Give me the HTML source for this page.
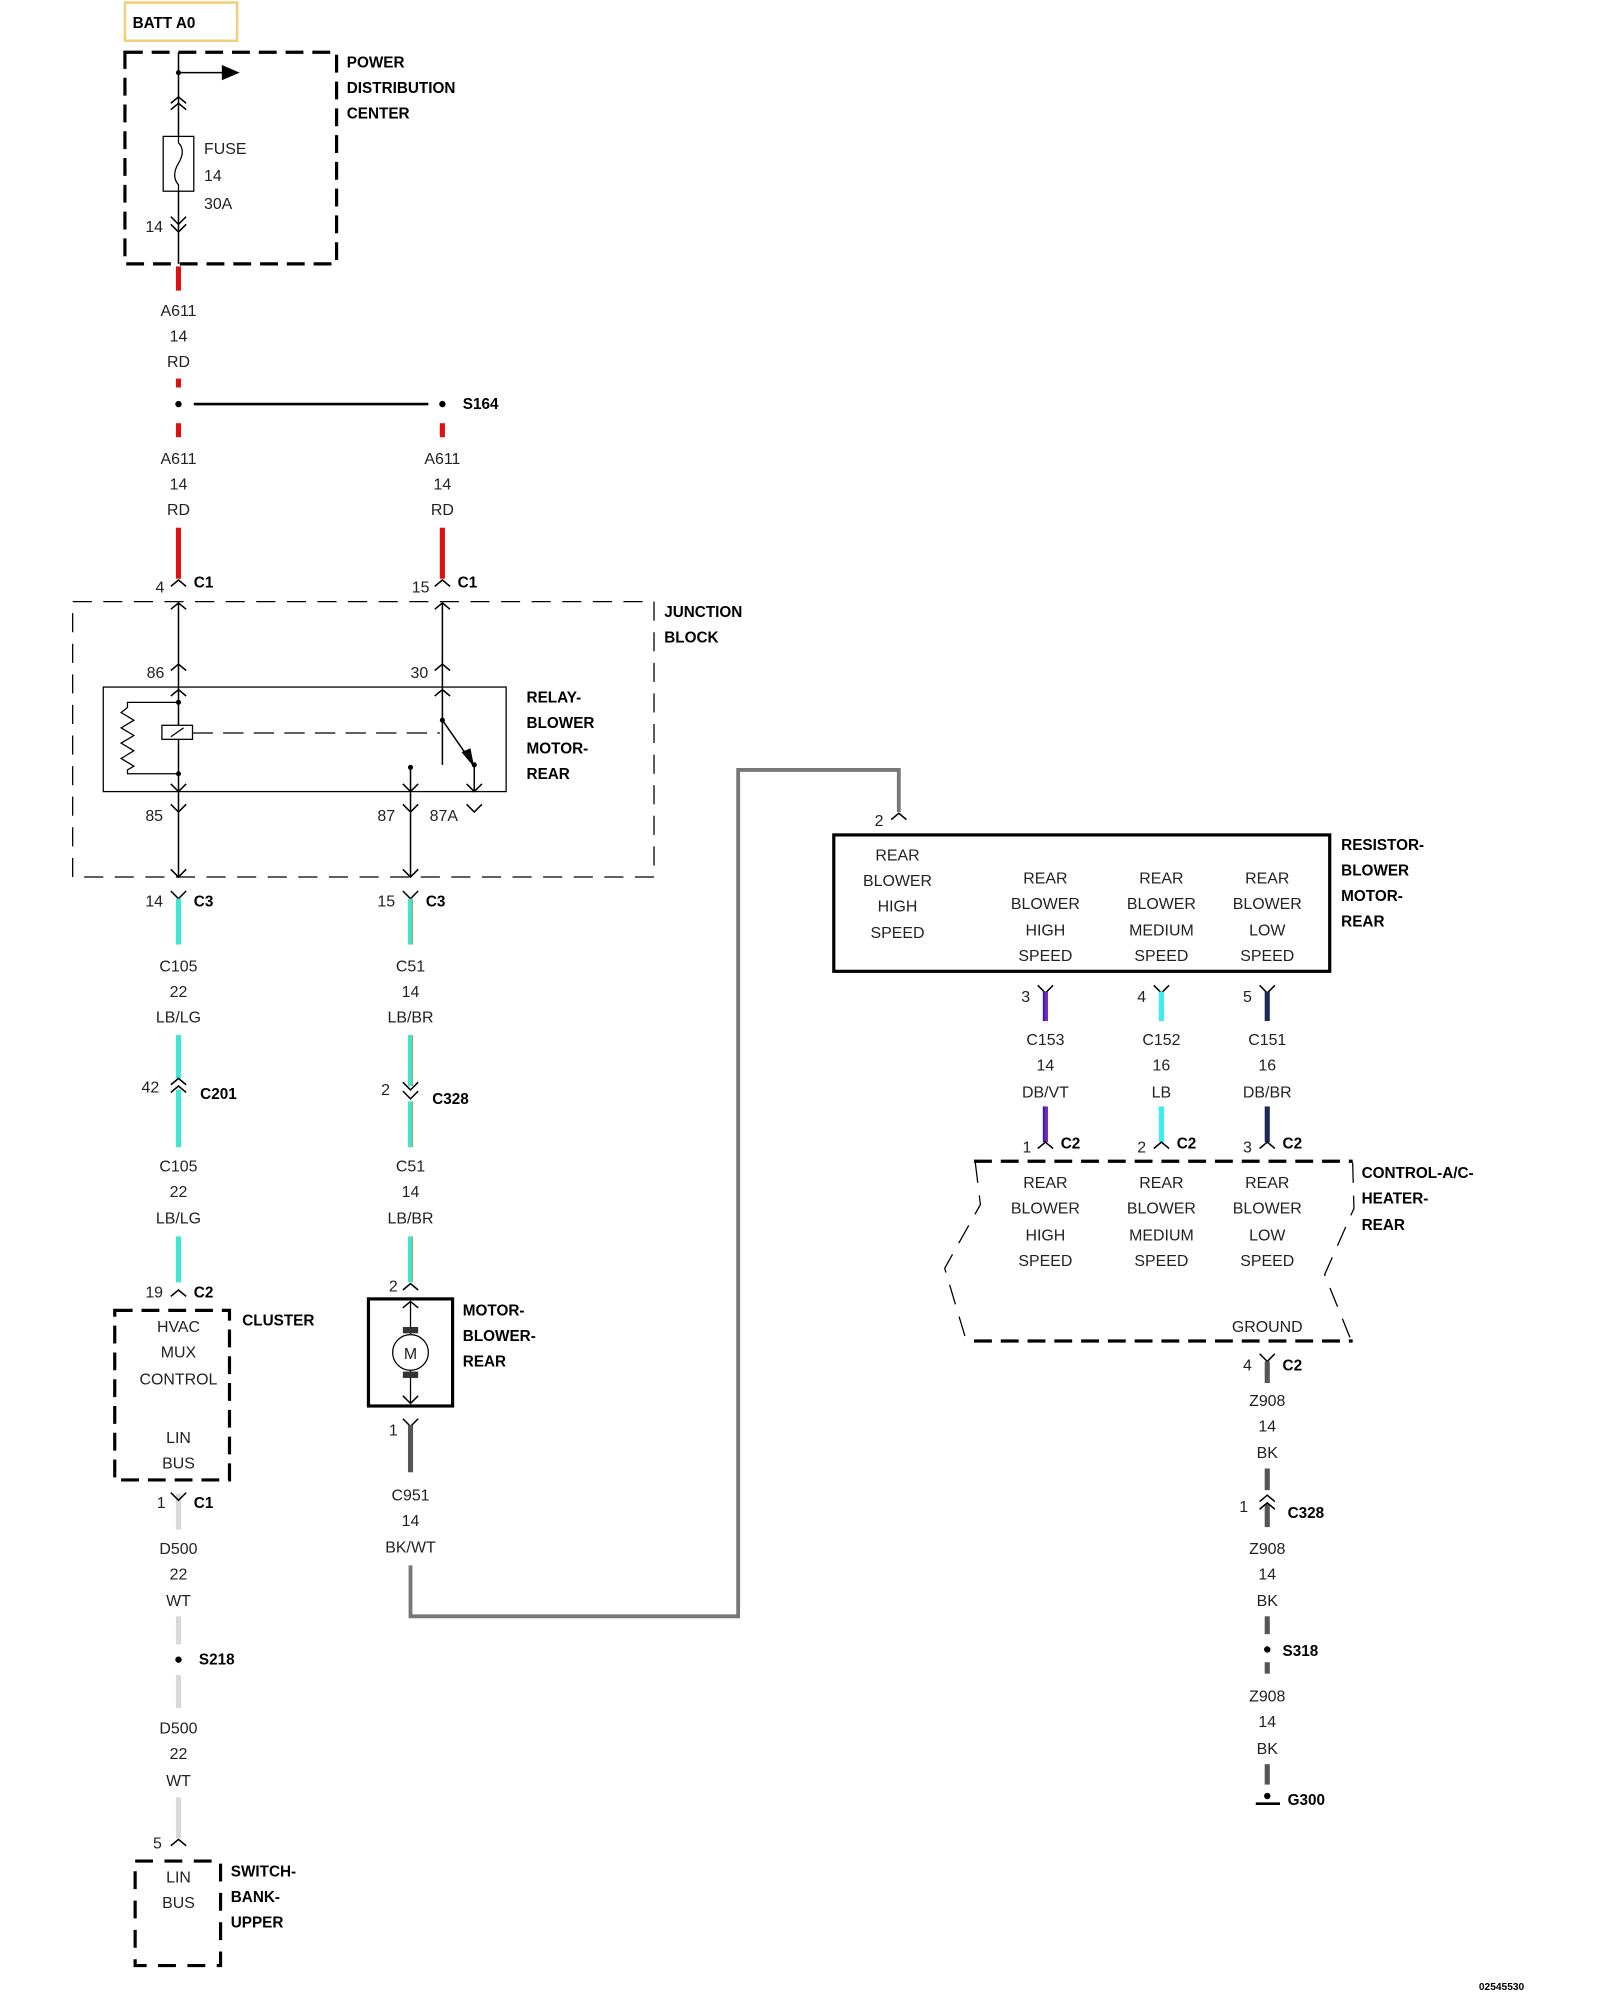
<!DOCTYPE html>
<html><head><meta charset="utf-8"><style>
html,body{margin:0;padding:0;background:#fff;}
svg{display:block;}
text{font-family:"Liberation Sans",Arial,sans-serif;font-size:12.5px;fill:#222;}
.b{font-weight:bold;font-size:12px;fill:#000;}
.c{text-anchor:middle;}
</style></head><body>
<svg width="1600" height="2000" viewBox="0 0 1255 1569" preserveAspectRatio="none" xmlns="http://www.w3.org/2000/svg">
<defs>
<path id="up" d="M-6 5 L0 0 L6 5" fill="none" stroke="#000" stroke-width="1.2"/>
<path id="dn" d="M-6 -6 L0 0 L6 -6" fill="none" stroke="#000" stroke-width="1.2"/>
</defs>
<rect x="0" y="0" width="1255" height="1569" fill="#fff"/>
<!-- BATT -->
<rect x="98" y="2" width="88" height="30" fill="none" stroke="#f0d078" stroke-width="2"/>
<text x="104" y="22" class="b">BATT A0</text>
<!-- PDC -->
<rect x="98" y="41" width="166" height="166" fill="none" stroke="#000" stroke-width="2.5" stroke-dasharray="14 7"/>
<text x="272" y="53" class="b">POWER</text><text x="272" y="73" class="b">DISTRIBUTION</text><text x="272" y="93" class="b">CENTER</text>
<line x1="140" y1="41" x2="140" y2="207" stroke="#000" stroke-width="1.2"/>
<circle cx="140" cy="57" r="2" fill="#000"/>
<line x1="140" y1="57" x2="175" y2="57" stroke="#000" stroke-width="1.2"/>
<path d="M174 51 L188 57 L174 63Z" fill="#000"/>
<use href="#up" x="140" y="76"/><use href="#up" x="140" y="81"/>
<rect x="128" y="107" width="24" height="43" fill="#fff" stroke="#000" stroke-width="1"/>
<path d="M140 107 L140 112 Q146 118 140 128 Q134 138 140 145 L140 150" fill="none" stroke="#000" stroke-width="1"/>
<text x="160" y="121">FUSE</text><text x="160" y="142">14</text><text x="160" y="164">30A</text>
<text x="114" y="182">14</text>
<use href="#dn" x="140" y="176"/><use href="#dn" x="140" y="182"/>
<!-- A611 wires -->
<rect x="138" y="209" width="4" height="19" fill="#e01010"/>
<text x="140" y="248" class="c">A611</text><text x="140" y="268" class="c">14</text><text x="140" y="288" class="c">RD</text>
<rect x="138" y="297" width="4" height="7" fill="#e01010"/>
<circle cx="140" cy="317" r="2.5" fill="#000"/>
<line x1="152" y1="317" x2="336" y2="317" stroke="#000" stroke-width="2"/>
<circle cx="347" cy="317" r="2.5" fill="#000"/>
<text x="363" y="321" class="b">S164</text>
<rect x="138" y="332" width="4" height="11" fill="#e01010"/>
<rect x="345" y="332" width="4" height="11" fill="#e01010"/>
<text x="140" y="364" class="c">A611</text><text x="140" y="384" class="c">14</text><text x="140" y="404" class="c">RD</text>
<text x="347" y="364" class="c">A611</text><text x="347" y="384" class="c">14</text><text x="347" y="404" class="c">RD</text>
<rect x="138" y="414" width="4" height="40" fill="#e01010"/>
<rect x="345" y="414" width="4" height="40" fill="#e01010"/>
<use href="#up" x="140" y="455"/><use href="#up" x="347" y="455"/>
<text x="122" y="465">4</text><text x="152" y="461" class="b">C1</text>
<text x="323" y="465">15</text><text x="359" y="461" class="b">C1</text>
<!-- Junction block -->
<rect x="57" y="472" width="456" height="216" fill="none" stroke="#000" stroke-width="1" stroke-dasharray="15 9"/>
<text x="521" y="484" class="b">JUNCTION</text><text x="521" y="504" class="b">BLOCK</text>
<line x1="140" y1="473" x2="140" y2="688" stroke="#000" stroke-width="1.2"/>
<line x1="347" y1="473" x2="347" y2="600" stroke="#000" stroke-width="1.2"/>
<use href="#up" x="140" y="473"/><use href="#up" x="347" y="473"/>
<use href="#up" x="140" y="521"/><use href="#up" x="347" y="521"/>
<text x="115" y="532">86</text><text x="322" y="532">30</text>
<rect x="81" y="539" width="316" height="82" fill="none" stroke="#000" stroke-width="1"/>
<use href="#up" x="140" y="541"/><use href="#up" x="347" y="541"/>
<path d="M140 551 L100 551 L100 555 L95 559 L105 565 L95 571 L105 577 L95 583 L105 589 L95 595 L105 601 L100 604 L100 607 L140 607" fill="none" stroke="#000" stroke-width="1"/>
<circle cx="140" cy="551" r="2" fill="#000"/><circle cx="140" cy="607" r="2" fill="#000"/>
<rect x="127" y="569" width="24" height="11" fill="#fff" stroke="#000" stroke-width="1"/>
<line x1="134" y1="578" x2="144" y2="571" stroke="#000" stroke-width="1"/>
<line x1="151" y1="575" x2="345" y2="575" stroke="#000" stroke-width="1" stroke-dasharray="16 8"/>
<circle cx="347" cy="565" r="2" fill="#000"/>
<line x1="347" y1="565" x2="370" y2="598" stroke="#000" stroke-width="1.2"/>
<path d="M362 590 L372 602 L369 587Z" fill="#000"/>
<circle cx="372" cy="600" r="2" fill="#000"/>
<line x1="372" y1="600" x2="372" y2="621" stroke="#000" stroke-width="1.2"/>
<use href="#dn" x="372" y="621"/>
<circle cx="322" cy="602" r="2" fill="#000"/>
<line x1="322" y1="602" x2="322" y2="688" stroke="#000" stroke-width="1.2"/>
<use href="#dn" x="322" y="621"/><use href="#dn" x="140" y="621"/>
<text x="413" y="551" class="b">RELAY-</text><text x="413" y="571" class="b">BLOWER</text><text x="413" y="591" class="b">MOTOR-</text><text x="413" y="611" class="b">REAR</text>
<use href="#dn" x="140" y="637"/><use href="#dn" x="322" y="637"/><use href="#dn" x="372" y="637"/>
<text x="114" y="644">85</text><text x="296" y="644">87</text><text x="337" y="644">87A</text>
<use href="#dn" x="140" y="688"/><use href="#dn" x="322" y="688"/>
<use href="#dn" x="140" y="705"/><use href="#dn" x="322" y="705"/>
<text x="114" y="711">14</text><text x="152" y="711" class="b">C3</text>
<text x="296" y="711">15</text><text x="334" y="711" class="b">C3</text>
<!-- left column -->
<g fill="#3ee6d6">
<rect x="138" y="705" width="4" height="36"/><rect x="138" y="812" width="4" height="34"/><rect x="138" y="855" width="4" height="45"/><rect x="138" y="970" width="4" height="36"/>
<rect x="320" y="705" width="4" height="36"/><rect x="320" y="812" width="4" height="40"/><rect x="320" y="864" width="4" height="36"/><rect x="320" y="970" width="4" height="36"/>
</g>
<g fill="#b8a060"><rect x="323" y="705" width="1" height="36"/><rect x="323" y="812" width="1" height="40"/><rect x="323" y="864" width="1" height="36"/><rect x="323" y="970" width="1" height="36"/></g>
<text x="140" y="762" class="c">C105</text><text x="140" y="782" class="c">22</text><text x="140" y="802" class="c">LB/LG</text>
<use href="#up" x="140" y="846"/><use href="#up" x="140" y="852"/>
<text x="111" y="857">42</text><text x="157" y="862" class="b">C201</text>
<text x="140" y="919" class="c">C105</text><text x="140" y="939" class="c">22</text><text x="140" y="960" class="c">LB/LG</text>
<use href="#up" x="140" y="1012"/>
<text x="114" y="1018">19</text><text x="152" y="1018" class="b">C2</text>
<rect x="90" y="1028" width="90" height="133" fill="none" stroke="#000" stroke-width="2.5" stroke-dasharray="14 7"/>
<text x="140" y="1045" class="c">HVAC</text><text x="140" y="1065" class="c">MUX</text><text x="140" y="1086" class="c">CONTROL</text>
<text x="140" y="1132" class="c">LIN</text><text x="140" y="1152" class="c">BUS</text>
<text x="190" y="1040" class="b">CLUSTER</text>
<g fill="#d8d8d8"><rect x="138" y="1172" width="4" height="28"/><rect x="138" y="1268" width="4" height="22"/><rect x="138" y="1314" width="4" height="26"/><rect x="138" y="1410" width="4" height="32"/></g>
<use href="#dn" x="140" y="1177"/>
<text x="123" y="1183">1</text><text x="152" y="1183" class="b">C1</text>
<text x="140" y="1219" class="c">D500</text><text x="140" y="1239" class="c">22</text><text x="140" y="1260" class="c">WT</text>
<circle cx="140" cy="1302" r="2.5" fill="#000"/><text x="156" y="1306" class="b">S218</text>
<text x="140" y="1360" class="c">D500</text><text x="140" y="1380" class="c">22</text><text x="140" y="1401" class="c">WT</text>
<use href="#up" x="140" y="1443"/><text x="120" y="1450">5</text>
<rect x="106" y="1460" width="67" height="82" fill="none" stroke="#000" stroke-width="2.5" stroke-dasharray="14 9"/>
<text x="140" y="1477" class="c">LIN</text><text x="140" y="1497" class="c">BUS</text>
<text x="181" y="1472" class="b">SWITCH-</text><text x="181" y="1492" class="b">BANK-</text><text x="181" y="1512" class="b">UPPER</text>
<!-- middle column -->
<text x="322" y="762" class="c">C51</text><text x="322" y="782" class="c">14</text><text x="322" y="802" class="c">LB/BR</text>
<use href="#dn" x="322" y="855"/><use href="#dn" x="322" y="862"/>
<text x="299" y="859">2</text><text x="339" y="866" class="b">C328</text>
<text x="322" y="919" class="c">C51</text><text x="322" y="939" class="c">14</text><text x="322" y="960" class="c">LB/BR</text>
<use href="#up" x="322" y="1007"/><text x="305" y="1013">2</text>
<rect x="289" y="1019" width="66" height="84" fill="none" stroke="#000" stroke-width="2.5"/>
<line x1="322" y1="1021" x2="322" y2="1101" stroke="#000" stroke-width="1"/>
<use href="#up" x="322" y="1021"/><use href="#dn" x="322" y="1101"/>
<rect x="316" y="1041" width="12" height="5" fill="#333"/><rect x="316" y="1076" width="12" height="5" fill="#333"/>
<circle cx="322" cy="1061" r="14" fill="#fff" stroke="#000" stroke-width="1"/>
<text x="322" y="1066" class="c">M</text>
<text x="363" y="1032" class="b">MOTOR-</text><text x="363" y="1052" class="b">BLOWER-</text><text x="363" y="1072" class="b">REAR</text>
<use href="#dn" x="322" y="1119"/><text x="305" y="1126">1</text>
<rect x="320" y="1118" width="4" height="37" fill="#555"/>
<text x="322" y="1177" class="c">C951</text><text x="322" y="1197" class="c">14</text><text x="322" y="1218" class="c">BK/WT</text>
<path d="M322 1228 L322 1268 L579 1268 L579 604 L705 604 L705 637" fill="none" stroke="#777" stroke-width="3"/>
<use href="#up" x="705" y="638"/><text x="686" y="648">2</text>
<!-- resistor -->
<rect x="654" y="655" width="389" height="107" fill="none" stroke="#000" stroke-width="2.5"/>
<text x="704" y="675" class="c">REAR</text><text x="704" y="695" class="c">BLOWER</text><text x="704" y="715" class="c">HIGH</text><text x="704" y="736" class="c">SPEED</text>
<text x="820" y="693" class="c">REAR</text><text x="820" y="713" class="c">BLOWER</text><text x="820" y="734" class="c">HIGH</text><text x="820" y="754" class="c">SPEED</text>
<text x="911" y="693" class="c">REAR</text><text x="911" y="713" class="c">BLOWER</text><text x="911" y="734" class="c">MEDIUM</text><text x="911" y="754" class="c">SPEED</text>
<text x="994" y="693" class="c">REAR</text><text x="994" y="713" class="c">BLOWER</text><text x="994" y="734" class="c">LOW</text><text x="994" y="754" class="c">SPEED</text>
<text x="1052" y="667" class="b">RESISTOR-</text><text x="1052" y="687" class="b">BLOWER</text><text x="1052" y="707" class="b">MOTOR-</text><text x="1052" y="727" class="b">REAR</text>
<use href="#dn" x="820" y="779"/><use href="#dn" x="911" y="779"/><use href="#dn" x="994" y="779"/>
<text x="801" y="786">3</text><text x="892" y="786">4</text><text x="975" y="786">5</text>
<rect x="818" y="778" width="4" height="23" fill="#7a22c8"/><rect x="818" y="778" width="1.5" height="23" fill="#2a2a90"/>
<rect x="909" y="778" width="4" height="23" fill="#38eeee"/>
<rect x="992" y="778" width="4" height="23" fill="#1c2a5a"/>
<text x="820" y="820" class="c">C153</text><text x="820" y="840" class="c">14</text><text x="820" y="861" class="c">DB/VT</text>
<text x="911" y="820" class="c">C152</text><text x="911" y="840" class="c">16</text><text x="911" y="861" class="c">LB</text>
<text x="994" y="820" class="c">C151</text><text x="994" y="840" class="c">16</text><text x="994" y="861" class="c">DB/BR</text>
<rect x="818" y="868" width="4" height="28" fill="#7a22c8"/><rect x="818" y="868" width="1.5" height="28" fill="#2a2a90"/>
<rect x="909" y="868" width="4" height="28" fill="#38eeee"/>
<rect x="992" y="868" width="4" height="28" fill="#1c2a5a"/>
<use href="#up" x="820" y="896"/><use href="#up" x="911" y="896"/><use href="#up" x="994" y="896"/>
<text x="802" y="904">1</text><text x="832" y="901" class="b">C2</text>
<text x="892" y="904">2</text><text x="923" y="901" class="b">C2</text>
<text x="975" y="904">3</text><text x="1006" y="901" class="b">C2</text>
<!-- control box -->
<line x1="764" y1="911" x2="1061" y2="911" stroke="#000" stroke-width="2.5" stroke-dasharray="14 7"/>
<line x1="764" y1="1052" x2="1061" y2="1052" stroke="#000" stroke-width="2.5" stroke-dasharray="14 7"/>
<path d="M765 912 L769 945 L741 995 L758 1052 M1061 912 L1062 948 L1039 1000 L1060 1052" fill="none" stroke="#000" stroke-width="1" stroke-dasharray="16 10"/>
<text x="820" y="932" class="c">REAR</text><text x="820" y="952" class="c">BLOWER</text><text x="820" y="973" class="c">HIGH</text><text x="820" y="993" class="c">SPEED</text>
<text x="911" y="932" class="c">REAR</text><text x="911" y="952" class="c">BLOWER</text><text x="911" y="973" class="c">MEDIUM</text><text x="911" y="993" class="c">SPEED</text>
<text x="994" y="932" class="c">REAR</text><text x="994" y="952" class="c">BLOWER</text><text x="994" y="973" class="c">LOW</text><text x="994" y="993" class="c">SPEED</text>
<text x="994" y="1045" class="c">GROUND</text>
<text x="1068" y="924" class="b">CONTROL-A/C-</text><text x="1068" y="944" class="b">HEATER-</text><text x="1068" y="965" class="b">REAR</text>
<use href="#dn" x="994" y="1068"/><text x="975" y="1075">4</text><text x="1006" y="1075" class="b">C2</text>
<g fill="#555"><rect x="992" y="1068" width="4" height="17"/><rect x="992" y="1152" width="4" height="17"/><rect x="992" y="1180" width="4" height="18"/><rect x="992" y="1268" width="4" height="14"/><rect x="992" y="1304" width="4" height="9"/><rect x="992" y="1384" width="4" height="16"/></g>
<text x="994" y="1103" class="c">Z908</text><text x="994" y="1123" class="c">14</text><text x="994" y="1144" class="c">BK</text>
<use href="#up" x="994" y="1173"/><use href="#up" x="994" y="1179"/>
<text x="972" y="1186">1</text><text x="1010" y="1191" class="b">C328</text>
<text x="994" y="1219" class="c">Z908</text><text x="994" y="1239" class="c">14</text><text x="994" y="1260" class="c">BK</text>
<circle cx="994" cy="1294" r="2.5" fill="#000"/><text x="1006" y="1299" class="b">S318</text>
<text x="994" y="1335" class="c">Z908</text><text x="994" y="1355" class="c">14</text><text x="994" y="1376" class="c">BK</text>
<circle cx="994" cy="1409" r="2.5" fill="#000"/>
<line x1="985" y1="1415" x2="1004" y2="1415" stroke="#000" stroke-width="2"/>
<text x="1010" y="1416" class="b">G300</text>
<text x="1160" y="1561" class="b" style="font-size:8px">02545530</text>
</svg>
</body></html>
